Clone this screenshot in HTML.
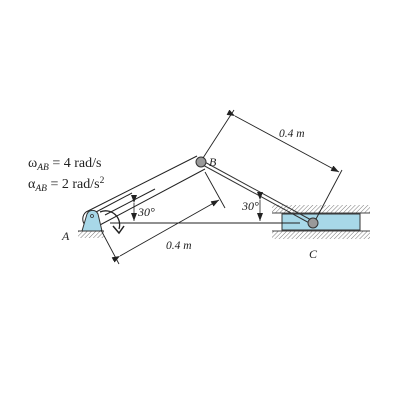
<!DOCTYPE html>
<html><head><meta charset="utf-8"><style>
html,body{margin:0;padding:0;background:#fff;}
svg{display:block;}
text{font-family:"Liberation Serif",serif;fill:#222;}
</style></head><body>
<svg width="400" height="400" viewBox="0 0 400 400">
<defs>
<pattern id="hatch" width="3" height="3" patternUnits="userSpaceOnUse" patternTransform="rotate(45)">
<line x1="0" y1="0" x2="0" y2="3" stroke="#777" stroke-width="1"/>
</pattern>
<marker id="ar" markerWidth="8" markerHeight="6" refX="8" refY="3" orient="auto" markerUnits="userSpaceOnUse">
<path d="M0,0 L8,3 L0,6 Z" fill="#222"/>
</marker>
</defs>

<g>
<text x="28" y="167" font-size="14">ω<tspan font-size="9.5" font-style="italic" dy="3">AB</tspan><tspan dy="-3"> = 4 rad/s</tspan></text>
<text x="28" y="188" font-size="14">α<tspan font-size="9.5" font-style="italic" dy="3">AB</tspan><tspan dy="-3"> = 2 rad/s</tspan><tspan font-size="9.5" dy="-5">2</tspan></text>
</g>

<g>
<rect x="272" y="205" width="98" height="8" fill="url(#hatch)"/>
<line x1="272" y1="213" x2="370" y2="213" stroke="#444" stroke-width="1"/>
<rect x="272" y="231" width="98" height="8" fill="url(#hatch)"/>
<line x1="272" y1="231" x2="370" y2="231" stroke="#444" stroke-width="1"/>
</g>
<rect x="282" y="214" width="78" height="16" fill="#a8d8e8" stroke="#333" stroke-width="1"/>

<line x1="110" y1="223" x2="300" y2="223" stroke="#222" stroke-width="1"/>

<g fill="none" stroke="#222" stroke-width="1">
<path d="M86,212 L197,156 M98,226 L205,169 M86,212 A8,8 0 0 0 98,226"/>
<line x1="105" y1="215" x2="155" y2="189"/>
<line x1="96" y1="212" x2="132" y2="193"/>
</g>

<g stroke="#333" stroke-width="1">
<line x1="201" y1="160" x2="313" y2="221"/>
<line x1="201" y1="164" x2="313" y2="225"/>
</g>

<g>
<rect x="78" y="231" width="26" height="7" fill="url(#hatch)"/>
<line x1="78" y1="231" x2="104" y2="231" stroke="#333"/>
<path d="M82,231 L87,214 A6,6 0 0 1 98,214 L102,231 Z" fill="#a8d8e8" stroke="#333" stroke-width="1"/>
<circle cx="92" cy="216" r="1.5" fill="none" stroke="#333" stroke-width="0.8"/>
</g>
<text x="62" y="240" font-size="12" font-style="italic">A</text>

<path d="M100,212 A14,14 0 0 1 119,229" fill="none" stroke="#222" stroke-width="1.3"/>
<path d="M113,226 L119,233 L124,226" fill="none" stroke="#222" stroke-width="1.5"/>

<circle cx="201" cy="162" r="5" fill="#999" stroke="#333" stroke-width="1"/>
<circle cx="313" cy="223" r="5" fill="#999" stroke="#333" stroke-width="1"/>
<text x="209" y="166" font-size="12" font-style="italic">B</text>
<text x="309" y="258" font-size="12" font-style="italic">C</text>

<line x1="134" y1="203" x2="134" y2="221" stroke="#222" stroke-width="0.8" marker-start="url(#ar)" marker-end="url(#ar)"/>
<text x="138" y="216" font-size="12" font-style="italic">30°</text>
<line x1="260" y1="200" x2="260" y2="221" stroke="#222" stroke-width="0.8" marker-start="url(#ar)" marker-end="url(#ar)"/>
<text x="242" y="210" font-size="12" font-style="italic">30°</text>

<g stroke="#222" stroke-width="0.9">
<line x1="203" y1="158" x2="234" y2="110"/>
<line x1="316" y1="219" x2="342" y2="170"/>
<line x1="235" y1="116" x2="339" y2="172" marker-start="url(#ar)" marker-end="url(#ar)"/>
</g>
<text x="279" y="137" font-size="11.5" font-style="italic">0.4 m</text>

<g stroke="#222" stroke-width="0.9">
<line x1="101" y1="230" x2="119" y2="264"/>
<line x1="205" y1="172" x2="225" y2="208"/>
<line x1="120" y1="256" x2="219" y2="200" marker-start="url(#ar)" marker-end="url(#ar)"/>
</g>
<text x="166" y="249" font-size="11.5" font-style="italic">0.4 m</text>
</svg>
</body></html>
